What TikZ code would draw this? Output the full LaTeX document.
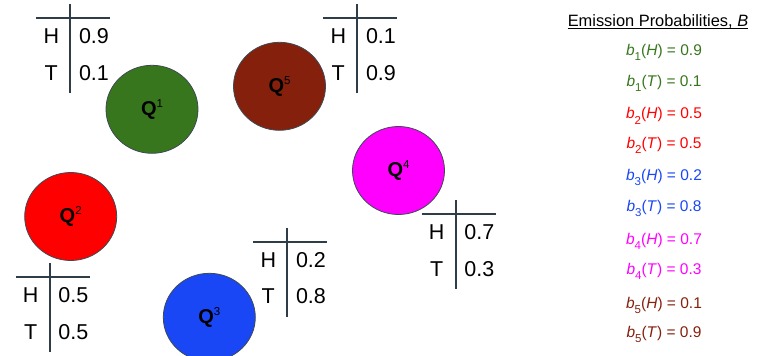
\documentclass[tikz,border=0pt]{standalone}
\usepackage{fontspec}
\setmainfont{Liberation Sans}
\usetikzlibrary{shapes.geometric}
\definecolor{qgreen}{HTML}{38761D}
\definecolor{qred}{HTML}{FF0000}
\definecolor{qblue}{HTML}{1A47F5}
\definecolor{qmag}{HTML}{FF00FF}
\definecolor{qbrown}{HTML}{85200C}
\definecolor{tabgray}{HTML}{2E3D47}
\definecolor{rimgray}{HTML}{3C4A53}
\newcommand{\probtab}[5]{%
  \draw[tabline] (#2-34,#3) -- (#2+40,#3);
  \draw[tabline] (#2,#3-14) -- (#2,#3+75);
  \node[tabtxt,anchor=base] (#1h) at (#2-19,#3+25) {H};
  \node[tabtxt,anchor=base] (#1t) at (#2-19,#3+61.7) {T};
  \node[tabtxt,anchor=base west] (#1hv) at (#2+8.5,#3+25) {#4};
  \node[tabtxt,anchor=base west] (#1tv) at (#2+8.5,#3+61.7) {#5};
}
\newcommand{\qlab}[1]{Q\raisebox{7.6pt}{\mdseries\fontsize{11.5}{12}\selectfont #1}}
\newcommand{\bprob}[3]{\textit{b}\raisebox{-5.2pt}{\fontsize{11.5}{12}\selectfont #1}(\textit{#2}) = #3}
\begin{document}
\begin{tikzpicture}[x=1pt,y=-1pt,
  tabline/.style={draw=tabgray, line width=2.2pt},
  tabtxt/.style={inner sep=0pt, font=\fontsize{21.5}{25}\selectfont},
  state/.style={ellipse, draw=rimgray, line width=0.8pt, minimum width=92pt,
    minimum height=88pt, inner sep=0pt, font=\fontsize{20}{24}\selectfont\bfseries},
  emit/.style={inner sep=0pt, anchor=base, font=\fontsize{15.5}{18}\selectfont}]
\useasboundingbox (0,0) rectangle (763,356);
% states
\node[state, fill=qgreen] (q1) at (152,109.3) {\qlab{1}};
\node[state, fill=qred]   (q2) at (70.7,216.5) {\qlab{2}};
\node[state, fill=qblue]  (q3) at (209.3,317.3) {\qlab{3}};
\node[state, fill=qmag]   (q4) at (398.5,170.5) {\qlab{4}};
\node[state, fill=qbrown] (q5) at (279.5,86.3) {\qlab{5}};
% tables
\probtab{ta}{70.3}{18.3}{0.9}{0.1}
\probtab{te}{357.3}{18.3}{0.1}{0.9}
\probtab{td}{455.7}{214.3}{0.7}{0.3}
\probtab{tb}{49.7}{277.3}{0.5}{0.5}
\probtab{tc}{287.3}{242}{0.2}{0.8}
% emission list
\node[emit, font=\fontsize{16.4}{19}\selectfont] (title) at (658,26.3) {Emission Probabilities, \textit{B}};
\draw[line width=0.9pt] ([yshift=-2pt]title.base west) -- ([yshift=-2pt]title.base east);
\node[emit, text=qgreen] (e1h) at (664,55.5) {\bprob{1}{H}{0.9}};
\node[emit, text=qgreen] (e1t) at (664,86.2) {\bprob{1}{T}{0.1}};
\node[emit, text=qred]   (e2h) at (664,118.8) {\bprob{2}{H}{0.5}};
\node[emit, text=qred]   (e2t) at (664,148.2) {\bprob{2}{T}{0.5}};
\node[emit, text=qblue]  (e3h) at (664,180.6) {\bprob{3}{H}{0.2}};
\node[emit, text=qblue]  (e3t) at (664,211.6) {\bprob{3}{T}{0.8}};
\node[emit, text=qmag]   (e4h) at (664,244.2) {\bprob{4}{H}{0.7}};
\node[emit, text=qmag]   (e4t) at (664,274.2) {\bprob{4}{T}{0.3}};
\node[emit, text=qbrown] (e5h) at (664,308.2) {\bprob{5}{H}{0.1}};
\node[emit, text=qbrown] (e5t) at (664,337.2) {\bprob{5}{T}{0.9}};
\end{tikzpicture}
\end{document}
